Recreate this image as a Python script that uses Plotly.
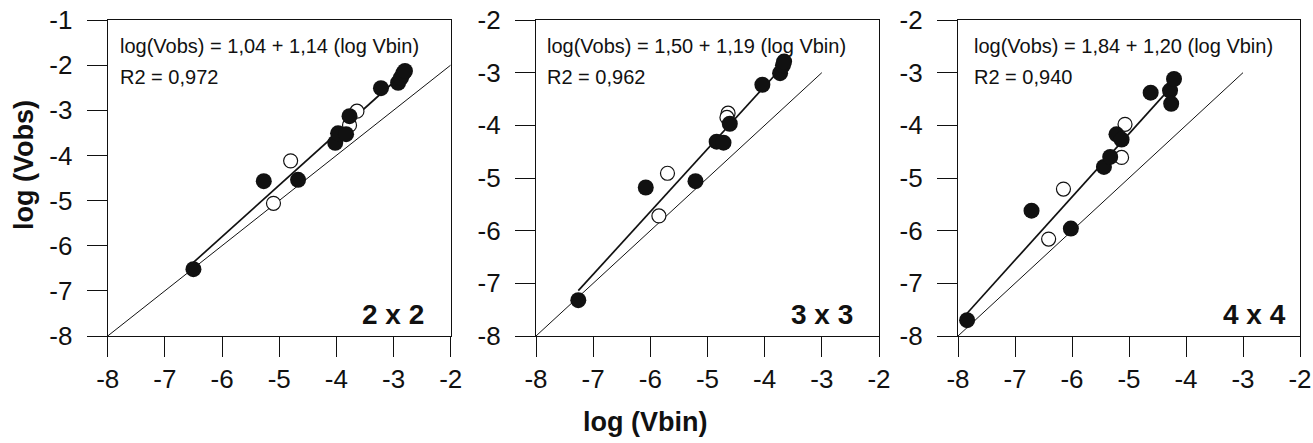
import plotly.graph_objects as go

# ---------------- data ----------------
panel_names = ["2 x 2", "3 x 3", "4 x 4"]
equations = ["log(Vobs) = 1,04 + 1,14 (log Vbin)",
             "log(Vobs) = 1,50 + 1,19 (log Vbin)",
             "log(Vobs) = 1,84 + 1,20 (log Vbin)"]
r2_texts = ["R2 = 0,972", "R2 = 0,962", "R2 = 0,940"]
intercepts = [1.04, 1.50, 1.84]
slopes = [1.14, 1.19, 1.20]
diag_start = [-8, -8, -8]
diag_end = [-2, -3, -3]
y_top = [-1, -2, -2]
x_ticks = [-8, -7, -6, -5, -4, -3, -2]

p1_fill_x = [-6.50, -5.27, -4.67, -4.02, -3.97, -3.83, -3.77, -3.22, -2.92, -2.87, -2.83, -2.80]
p1_fill_y = [-6.52, -4.57, -4.54, -3.72, -3.51, -3.53, -3.13, -2.51, -2.39, -2.28, -2.18, -2.13]
p1_open_x = [-4.80, -5.10, -3.64, -3.77]
p1_open_y = [-4.12, -5.06, -3.02, -3.33]

p2_fill_x = [-7.26, -6.08, -5.21, -4.84, -4.72, -4.61, -4.04, -3.73, -3.68, -3.66]
p2_fill_y = [-7.32, -5.18, -5.06, -4.31, -4.33, -3.97, -3.23, -3.01, -2.86, -2.79]
p2_open_x = [-5.70, -5.85, -4.64, -4.66]
p2_open_y = [-4.91, -5.72, -3.77, -3.85]

p3_fill_x = [-7.84, -6.71, -6.02, -5.44, -5.33, -5.22, -5.13, -4.62, -4.28, -4.21, -4.26]
p3_fill_y = [-7.70, -5.62, -5.96, -4.79, -4.60, -4.17, -4.27, -3.38, -3.34, -3.12, -3.59]
p3_open_x = [-6.15, -6.41, -5.07, -5.13]
p3_open_y = [-5.21, -6.16, -3.98, -4.61]

fills = [(p1_fill_x, p1_fill_y), (p2_fill_x, p2_fill_y), (p3_fill_x, p3_fill_y)]
opens = [(p1_open_x, p1_open_y), (p2_open_x, p2_open_y), (p3_open_x, p3_open_y)]

# ---------------- layout geometry (pixels) ----------------
W, H = 1313, 443
panel_left = [107.7, 536.0, 958.0]
panel_right = [450.7, 879.0, 1300.0]
plot_top, plot_bottom = 20.0, 336.0
text_inset = [10, 9, 14]
label_inset = [25, 24, 12]

FONT = "Arial, Liberation Sans, Helvetica, sans-serif"
INK = "#111111"

fig = go.Figure()
annotations = []

for i in range(3):
    xa = "x" if i == 0 else f"x{i+1}"
    ya = "y" if i == 0 else f"y{i+1}"
    # 1:1 line
    fig.add_trace(go.Scatter(x=[diag_start[i], diag_end[i]], y=[diag_start[i], diag_end[i]],
                             mode="lines", line=dict(color=INK, width=1),
                             xaxis=xa, yaxis=ya, showlegend=False, hoverinfo="skip"))
    # regression line
    allx = fills[i][0] + opens[i][0]
    x0, x1 = min(allx), max(allx)
    fig.add_trace(go.Scatter(x=[x0, x1],
                             y=[intercepts[i] + slopes[i] * x0, intercepts[i] + slopes[i] * x1],
                             mode="lines", line=dict(color=INK, width=1.7),
                             xaxis=xa, yaxis=ya, showlegend=False, hoverinfo="skip"))
    # open points
    fig.add_trace(go.Scatter(x=opens[i][0], y=opens[i][1], mode="markers",
                             marker=dict(symbol="circle", size=14, color="white",
                                         line=dict(color=INK, width=1.2)),
                             xaxis=xa, yaxis=ya, showlegend=False))
    # filled points
    fig.add_trace(go.Scatter(x=fills[i][0], y=fills[i][1], mode="markers",
                             marker=dict(symbol="circle", size=16, color=INK,
                                         line=dict(color=INK, width=0)),
                             xaxis=xa, yaxis=ya, showlegend=False))

    axis_common = dict(showline=True, linecolor=INK, linewidth=1.2, mirror=True,
                       ticks="outside", ticklen=20, tickwidth=1.2, tickcolor=INK,
                       showgrid=False, zeroline=False, automargin=False,
                       ticklabeloverflow="allow",
                       tickfont=dict(family=FONT, size=26, color=INK))
    xdom = [panel_left[i] / W, panel_right[i] / W]
    ydom = [1 - plot_bottom / H, 1 - plot_top / H]
    key = "" if i == 0 else str(i + 1)
    fig.update_layout(**{
        f"xaxis{key}": dict(domain=xdom, range=[-8, -2], tickvals=x_ticks,
                            ticktext=[str(v) for v in x_ticks], anchor=ya, **axis_common),
        f"yaxis{key}": dict(domain=ydom, range=[-8, y_top[i]],
                            tickvals=list(range(-8, y_top[i] + 1)),
                            ticktext=[str(v) for v in range(-8, y_top[i] + 1)],
                            anchor=xa, ticklabelstandoff=9, **axis_common),
    })

    annotations.append(dict(text=equations[i], xref="paper", yref="paper",
                            x=(panel_left[i] + text_inset[i]) / W, y=1 - 46 / H,
                            xanchor="left", yanchor="middle", showarrow=False,
                            font=dict(family=FONT, size=20, color=INK)))
    annotations.append(dict(text=r2_texts[i], xref="paper", yref="paper",
                            x=(panel_left[i] + text_inset[i]) / W, y=1 - 77 / H,
                            xanchor="left", yanchor="middle", showarrow=False,
                            font=dict(family=FONT, size=20, color=INK)))
    annotations.append(dict(text="<b>" + panel_names[i] + "</b>", xref="paper", yref="paper",
                            x=(panel_right[i] - label_inset[i]) / W, y=1 - 314 / H,
                            xanchor="right", yanchor="middle", showarrow=False,
                            font=dict(family=FONT, size=28, color=INK)))

annotations.append(dict(text="<b>log (Vbin)</b>", xref="paper", yref="paper",
                        x=645 / W, y=1 - 422 / H, xanchor="center", yanchor="middle",
                        showarrow=False, font=dict(family=FONT, size=27, color=INK)))
annotations.append(dict(text="<b>log (Vobs)</b>", xref="paper", yref="paper",
                        x=24 / W, y=1 - 165 / H, xanchor="center", yanchor="middle",
                        textangle=-90, showarrow=False,
                        font=dict(family=FONT, size=27, color=INK)))

fig.update_layout(width=W, height=H, margin=dict(l=0, r=0, t=0, b=0),
                  paper_bgcolor="white", plot_bgcolor="white",
                  annotations=annotations, showlegend=False)

fig.write_html("out.html", config={"displayModeBar": False},
               post_script="document.body.style.margin='0';document.body.style.padding='0';")
